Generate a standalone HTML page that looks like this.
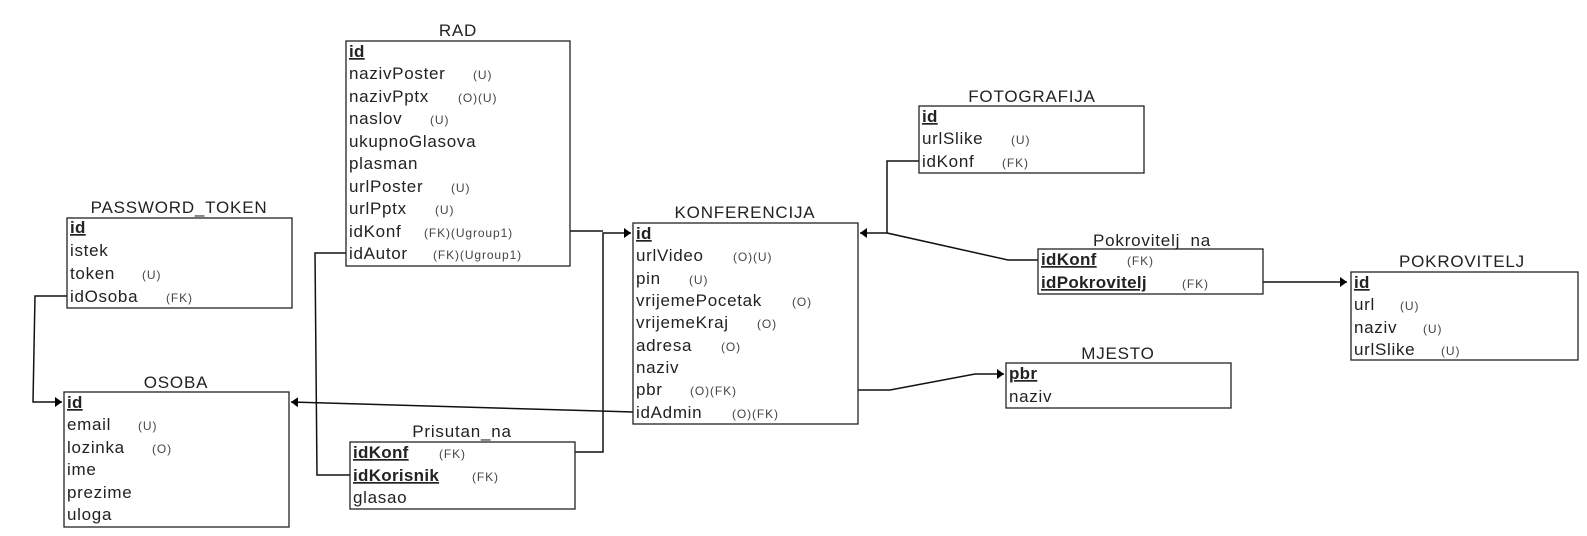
<!DOCTYPE html>
<html><head><meta charset="utf-8"><style>
html,body{margin:0;padding:0;background:#fff;}
svg{display:block;font-family:"Liberation Sans",Arial,sans-serif;}
.t{font-size:17px;fill:#222;text-anchor:middle;letter-spacing:0.8px;}
.r{font-size:17px;fill:#222;letter-spacing:0.7px;}
.s{font-size:12px;fill:#444;letter-spacing:0.9px;}
.k{font-weight:bold;text-decoration:underline;letter-spacing:0.3px;}
.b{fill:#fff;stroke:#222;stroke-width:1.3;}
.l{fill:none;stroke:#111;stroke-width:1.5;}
</style></head><body>
<svg width="1587" height="536" viewBox="0 0 1587 536" xmlns="http://www.w3.org/2000/svg">
<defs><marker id="a" markerWidth="8" markerHeight="10" refX="7" refY="5" orient="auto" markerUnits="userSpaceOnUse"><path d="M0,0 L7,5 L0,10 Z" fill="#000"/></marker></defs>

<path class="l" d="M67,296 L35,296 L33,402 L62,402" marker-end="url(#a)"/>
<path class="l" d="M346,253 L315,253 L317,475 L350,475"/>
<path class="l" d="M570,231 L603,231"/>
<path class="l" d="M575,452 L603,452 L603,233 L631,233" marker-end="url(#a)"/>
<path class="l" d="M633,412 L600,411 L291,402" marker-end="url(#a)"/>
<path class="l" d="M919,161 L887,161 L887,233 L860,233" marker-end="url(#a)"/>
<path class="l" d="M1038,260 L1008,260 L887,233"/>
<path class="l" d="M1263,282 L1347,282" marker-end="url(#a)"/>
<path class="l" d="M858,390 L890,390 L975,374 L1004,374" marker-end="url(#a)"/>

<text class="t" x="458" y="36">RAD</text>
<rect class="b" x="346" y="41" width="224" height="225"/>
<g class="r">
<text x="349" y="57" class="k">id</text>
<text x="349" y="79">nazivPoster</text><text class="s" x="473" y="79">(U)</text>
<text x="349" y="102">nazivPptx</text><text class="s" x="458" y="102">(O)(U)</text>
<text x="349" y="124">naslov</text><text class="s" x="430" y="124">(U)</text>
<text x="349" y="147">ukupnoGlasova</text>
<text x="349" y="169">plasman</text>
<text x="349" y="192">urlPoster</text><text class="s" x="451" y="192">(U)</text>
<text x="349" y="214">urlPptx</text><text class="s" x="435" y="214">(U)</text>
<text x="349" y="237">idKonf</text><text class="s" x="424" y="237">(FK)(Ugroup1)</text>
<text x="349" y="259">idAutor</text><text class="s" x="433" y="259">(FK)(Ugroup1)</text>
</g>

<text class="t" x="179" y="213">PASSWORD_TOKEN</text>
<rect class="b" x="67" y="218" width="225" height="90"/>
<g class="r">
<text x="70" y="233" class="k">id</text>
<text x="70" y="256">istek</text>
<text x="70" y="279">token</text><text class="s" x="142" y="279">(U)</text>
<text x="70" y="302">idOsoba</text><text class="s" x="166" y="302">(FK)</text>
</g>

<text class="t" x="176" y="388">OSOBA</text>
<rect class="b" x="64" y="392" width="225" height="135"/>
<g class="r">
<text x="67" y="408" class="k">id</text>
<text x="67" y="430">email</text><text class="s" x="138" y="430">(U)</text>
<text x="67" y="453">lozinka</text><text class="s" x="152" y="453">(O)</text>
<text x="67" y="475">ime</text>
<text x="67" y="498">prezime</text>
<text x="67" y="520">uloga</text>
</g>

<text class="t" x="462" y="437">Prisutan_na</text>
<rect class="b" x="350" y="442" width="225" height="67"/>
<g class="r">
<text x="353" y="458" class="k">idKonf</text><text class="s" x="439" y="458">(FK)</text>
<text x="353" y="481" class="k">idKorisnik</text><text class="s" x="472" y="481">(FK)</text>
<text x="353" y="503">glasao</text>
</g>

<text class="t" x="745" y="218">KONFERENCIJA</text>
<rect class="b" x="633" y="223" width="225" height="201"/>
<g class="r">
<text x="636" y="239" class="k">id</text>
<text x="636" y="261">urlVideo</text><text class="s" x="733" y="261">(O)(U)</text>
<text x="636" y="284">pin</text><text class="s" x="689" y="284">(U)</text>
<text x="636" y="306">vrijemePocetak</text><text class="s" x="792" y="306">(O)</text>
<text x="636" y="328">vrijemeKraj</text><text class="s" x="757" y="328">(O)</text>
<text x="636" y="351">adresa</text><text class="s" x="721" y="351">(O)</text>
<text x="636" y="373">naziv</text>
<text x="636" y="395">pbr</text><text class="s" x="690" y="395">(O)(FK)</text>
<text x="636" y="418">idAdmin</text><text class="s" x="732" y="418">(O)(FK)</text>
</g>

<text class="t" x="1032" y="102">FOTOGRAFIJA</text>
<rect class="b" x="919" y="106" width="225" height="67"/>
<g class="r">
<text x="922" y="122" class="k">id</text>
<text x="922" y="144">urlSlike</text><text class="s" x="1011" y="144">(U)</text>
<text x="922" y="167">idKonf</text><text class="s" x="1002" y="167">(FK)</text>
</g>

<text class="t" x="1152" y="246">Pokrovitelj_na</text>
<rect class="b" x="1038" y="249" width="225" height="45"/>
<g class="r">
<text x="1041" y="265" class="k">idKonf</text><text class="s" x="1127" y="265">(FK)</text>
<text x="1041" y="288" class="k">idPokrovitelj</text><text class="s" x="1182" y="288">(FK)</text>
</g>

<text class="t" x="1462" y="267">POKROVITELJ</text>
<rect class="b" x="1351" y="272" width="227" height="88"/>
<g class="r">
<text x="1354" y="288" class="k">id</text>
<text x="1354" y="310">url</text><text class="s" x="1400" y="310">(U)</text>
<text x="1354" y="333">naziv</text><text class="s" x="1423" y="333">(U)</text>
<text x="1354" y="355">urlSlike</text><text class="s" x="1441" y="355">(U)</text>
</g>

<text class="t" x="1118" y="359">MJESTO</text>
<rect class="b" x="1006" y="363" width="225" height="45"/>
<g class="r">
<text x="1009" y="379" class="k">pbr</text>
<text x="1009" y="402">naziv</text>
</g>
</svg>
</body></html>
